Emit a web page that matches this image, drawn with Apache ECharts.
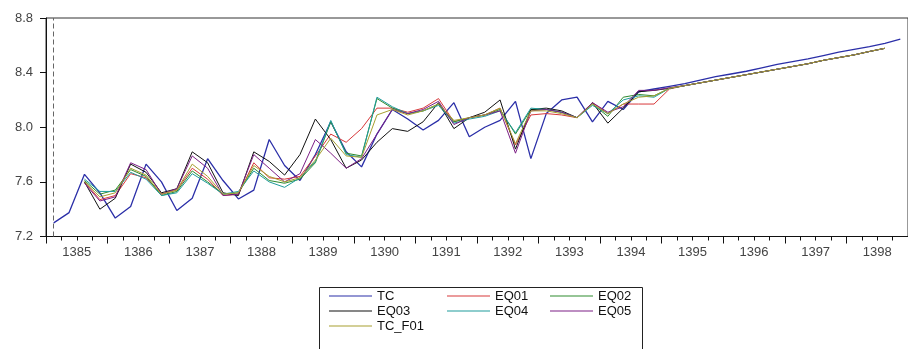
<!DOCTYPE html>
<html>
<head>
<meta charset="utf-8">
<script src="https://cdn.jsdelivr.net/npm/echarts@6/dist/echarts.min.js"></script>
<style>
html,body{margin:0;padding:0;background:#fff;}
#chart{width:908px;height:349px;}
</style>
</head>
<body>
<div id="chart"></div>
<script>
// ---- data ----
const years = ['1385','1386','1387','1388','1389','1390','1391','1392','1393','1394','1395','1396','1397','1398'];
const quarterNames = ['Q1','Q2','Q3','Q4'];
const yTicks = [7.2, 7.6, 8.0, 8.4, 8.8];

const tc = [7.30,7.375,7.655,7.52,7.335,7.42,7.73,7.60,7.39,7.48,7.77,7.61,7.475,7.54,7.91,7.72,
  7.61,7.80,8.04,7.82,7.71,7.95,8.13,8.06,7.98,8.05,8.18,7.93,8.00,8.05,8.19,7.77,8.10,8.20,8.22,8.04,
  8.19,8.13,8.26,8.28,8.30,8.32,8.345,8.37,8.39,8.41,8.435,8.46,8.48,8.50,8.525,8.55,8.57,8.59,8.615,8.645];

const eq01Head = [7.60,7.47,7.50,7.66,7.63,7.51,7.54,7.70,7.62,7.50,7.51,7.74,7.63,7.62,7.64,7.79,7.95,7.89,7.99,8.14,
  8.14,8.11,8.14,8.21,8.04,8.07,8.09,8.14,7.87,8.09,8.10,8.09,8.07,8.18,8.10,8.17,8.17,8.17,8.28];
const eq02Head = [7.61,7.51,7.54,7.69,7.64,7.50,7.53,7.68,7.60,7.51,7.52,7.70,7.61,7.59,7.62,7.74,8.04,7.81,7.79,8.21,
  8.14,8.10,8.12,8.17,8.04,8.07,8.09,8.13,7.95,8.13,8.13,8.11,8.07,8.17,8.08,8.22,8.24,8.23,8.285];
const eq03Head = [7.60,7.40,7.48,7.73,7.67,7.52,7.55,7.82,7.74,7.52,7.50,7.82,7.75,7.65,7.80,8.06,7.91,7.70,7.76,7.89,
  7.99,7.97,8.04,8.18,7.99,8.07,8.11,8.20,7.84,8.13,8.14,8.12,8.07,8.18,8.03,8.14,8.26,8.27,8.285];
const eq04Head = [7.62,7.53,7.53,7.67,7.62,7.50,7.52,7.66,7.59,7.51,7.53,7.68,7.60,7.56,7.63,7.75,8.05,7.80,7.78,8.22,
  8.15,8.10,8.12,8.16,8.03,8.06,8.08,8.12,7.96,8.14,8.13,8.11,8.07,8.16,8.10,8.20,8.23,8.22,8.285];
const eq05Head = [7.59,7.46,7.49,7.74,7.69,7.51,7.55,7.79,7.70,7.50,7.51,7.80,7.70,7.60,7.66,7.91,7.81,7.70,7.77,7.95,
  8.13,8.10,8.13,8.19,8.02,8.07,8.09,8.12,7.81,8.12,8.13,8.11,8.07,8.18,8.11,8.15,8.27,8.27,8.29];
const tcF01Head = [7.60,7.49,7.52,7.70,7.65,7.51,7.54,7.73,7.64,7.51,7.52,7.72,7.64,7.60,7.63,7.76,7.92,7.79,7.78,8.09,
  8.13,8.09,8.12,8.17,8.05,8.07,8.09,8.14,7.88,8.12,8.12,8.10,8.07,8.17,8.10,8.17,8.22,8.23,8.285];
const forecastTail = [8.305,8.325,8.345,8.365,8.385,8.405,8.425,8.445,8.465,8.49,8.51,8.53,8.555,8.578];

// ---- build ----
const quarters = [];
years.forEach(y => quarterNames.forEach(q => quarters.push(y + q)));
function full(head){ return [null, null].concat(head, forecastTail, [null]); }

const seriesDefs = [
  {name:'TC', data: tc, color:'#2b2fa8', width:1.3},
  {name:'EQ01', data: full(eq01Head), color:'#d8383a', width:1},
  {name:'EQ02', data: full(eq02Head), color:'#2e8b2e', width:1},
  {name:'EQ03', data: full(eq03Head), color:'#111111', width:1},
  {name:'EQ04', data: full(eq04Head), color:'#1f9c9c', width:1},
  {name:'EQ05', data: full(eq05Head), color:'#7d1f86', width:1},
  {name:'TC_F01', data: full(tcF01Head), color:'#a8a030', width:1}
];

const FONT = 'Liberation Sans, Arial, sans-serif';
const chart = echarts.init(document.getElementById('chart'), null, {renderer:'canvas'});

const series = seriesDefs.map((s, idx) => {
  const o = {
    name: s.name, type:'line', xAxisIndex:0, yAxisIndex:0,
    data: s.data, symbol:'none', showSymbol:false, connectNulls:false,
    lineStyle:{color:s.color, width:s.width}, itemStyle:{color:s.color},
    animation:false, z: 2 + idx
  };
  if (idx === 0) {
    o.markLine = {
      silent:true, symbol:'none', animation:false,
      label:{show:false},
      lineStyle:{color:'#666', type:[5,3], width:1},
      data:[{xAxis: quarters[0]}]
    };
  }
  return o;
});

function legendCol(left, names){
  return {
    orient:'vertical', left:left, top:289.5, height:80, padding:0,
    icon:'rect', itemWidth:43, itemHeight:1.2, itemGap:2,
    selectedMode:false,
    textStyle:{fontFamily:FONT, fontSize:13, color:'#111', lineHeight:12},
    data: names
  };
}

chart.setOption({
  backgroundColor:'#ffffff',
  animation:false,
  grid:{left:46, top:18, bottom:112.5, right:-12.7, show:true, borderColor:'#333', borderWidth:1, backgroundColor:'transparent'},
  xAxis:[
    {
      type:'category', data: quarters, boundaryGap:true, position:'bottom',
      axisLine:{show:true, lineStyle:{color:'#111', width:1}},
      axisTick:{show:true, length:4, interval:0, lineStyle:{color:'#111'}},
      axisLabel:{show:false}, splitLine:{show:false}
    },
    {
      type:'category', data: years, boundaryGap:true, position:'bottom',
      axisLine:{show:true, lineStyle:{color:'#111', width:1}},
      axisTick:{show:true, length:7, interval:0, lineStyle:{color:'#111'}},
      axisLabel:{show:true, interval:0, margin:9, fontFamily:FONT, fontSize:13, color:'#444'},
      splitLine:{show:false}
    }
  ],
  yAxis:{
    type:'value', min: yTicks[0], max: yTicks[yTicks.length-1], interval: 0.4,
    axisLine:{show:true, lineStyle:{color:'#111', width:1}},
    axisTick:{show:true, length:6, lineStyle:{color:'#111'}},
    axisLabel:{margin:13, fontFamily:FONT, fontSize:13, color:'#444', formatter: v => v.toFixed(1)},
    splitLine:{show:false}
  },
  legend:[
    legendCol(329, ['TC','EQ03','TC_F01']),
    legendCol(447, ['EQ01','EQ04']),
    legendCol(550, ['EQ02','EQ05'])
  ],
  graphic:[{
    type:'rect', left:317, top:285, silent:true,
    shape:{width:323, height:80},
    style:{fill:'none', stroke:'#222', lineWidth:1}
  }],
  series: series
});
</script>
</body>
</html>
